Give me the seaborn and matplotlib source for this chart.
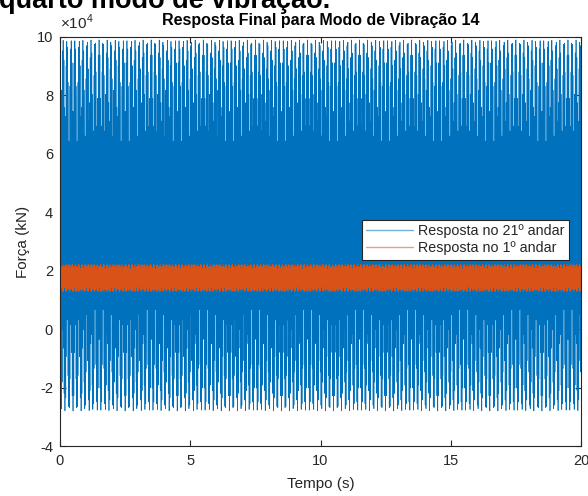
import numpy as np
import pandas as pd
import seaborn as sns
import matplotlib
matplotlib.use("Agg")
import matplotlib.pyplot as plt
from matplotlib.ticker import FuncFormatter

# Time base of the simulation (s)
t_start, t_end, dt = 0.0, 20.0, 0.01

# Floor responses: mean force (kN), oscillation amplitude (kN), frequency (Hz)
floors = ["Resposta no 21º andar", "Resposta no 1º andar"]
mean_force = [3.55e4, 1.75e4]
amplitude = [6.35e4, 0.47e4]
frequency = [35.5, 27.08]
colors = ["#0072BD", "#D95319"]

y_ticks = [-4e4, -2e4, 0, 2e4, 4e4, 6e4, 8e4, 10e4]
x_ticks = [0, 5, 10, 15, 20]
y_scale = 1e4

t = np.arange(t_start, t_end + dt / 2, dt)
frames = []
for name, m, a, f in zip(floors, mean_force, amplitude, frequency):
    frames.append(pd.DataFrame({"Tempo": t,
                                "Forca": m + a * np.sin(2 * np.pi * f * t),
                                "Serie": name}))
df = pd.concat(frames, ignore_index=True)

sns.set_style("white")
plt.rcParams["font.family"] = ["Liberation Sans", "DejaVu Sans"]
plt.rcParams["mathtext.fontset"] = "custom"
plt.rcParams["mathtext.rm"] = "Liberation Sans"
plt.rcParams["axes.unicode_minus"] = False

fig = plt.figure(figsize=(5.88, 4.96), dpi=100)
W, H = 588, 496
ax = fig.add_axes([60 / W, 1 - 446 / H, (581 - 60) / W, (446 - 37) / H])

sns.lineplot(data=df, x="Tempo", y="Forca", hue="Serie", palette=colors,
             hue_order=floors, estimator=None, sort=False, linewidth=0.5,
             ax=ax)

ax.set_xlim(0, 20)
ax.set_ylim(-4e4, 10e4)
ax.set_xticks(x_ticks)
ax.set_yticks(y_ticks)
ax.yaxis.set_major_formatter(FuncFormatter(lambda v, p: f"{v / y_scale:g}"))

dark = "#262626"
for s in ax.spines.values():
    s.set_color(dark)
    s.set_linewidth(0.8)
ax.tick_params(direction="in", length=4, width=0.8, colors=dark,
               labelsize=10.5, top=True, right=True, bottom=True, left=True)
ax.tick_params(axis="x", pad=6)
ax.tick_params(axis="y", pad=5)

# Exponent marker for the force axis
ax.text(0.0, 1.012, r"$\times$10$^{4}$", transform=ax.transAxes,
        fontsize=11, color=dark, ha="left", va="bottom")

ax.set_xlabel("Tempo (s)", fontsize=11, color=dark, labelpad=6)
ax.set_ylabel("Força (kN)", fontsize=11, color=dark, labelpad=5)
ax.set_title("Resposta Final para Modo de Vibração 14", fontsize=11.5,
             fontweight="bold", color="black", pad=9)

leg = ax.legend(loc="center right", bbox_to_anchor=(0.977, 0.504),
                fontsize=10.3, frameon=True, fancybox=False, framealpha=1,
                edgecolor=dark, handlelength=3.3, borderpad=0.3,
                labelspacing=0.2, handletextpad=0.35, borderaxespad=0)
leg.get_frame().set_linewidth(0.8)
for line in leg.get_lines():
    line.set_linewidth(1.0)
    line.set_alpha(0.55)

# Caption line of the surrounding document, cut at the top edge
fig.text(-0.002, 1 - 8 / H, "quarto modo de vibração.", fontsize=19.5,
         fontweight="bold", ha="left", va="baseline", color="black")

fig.savefig("out.png", dpi=100)
